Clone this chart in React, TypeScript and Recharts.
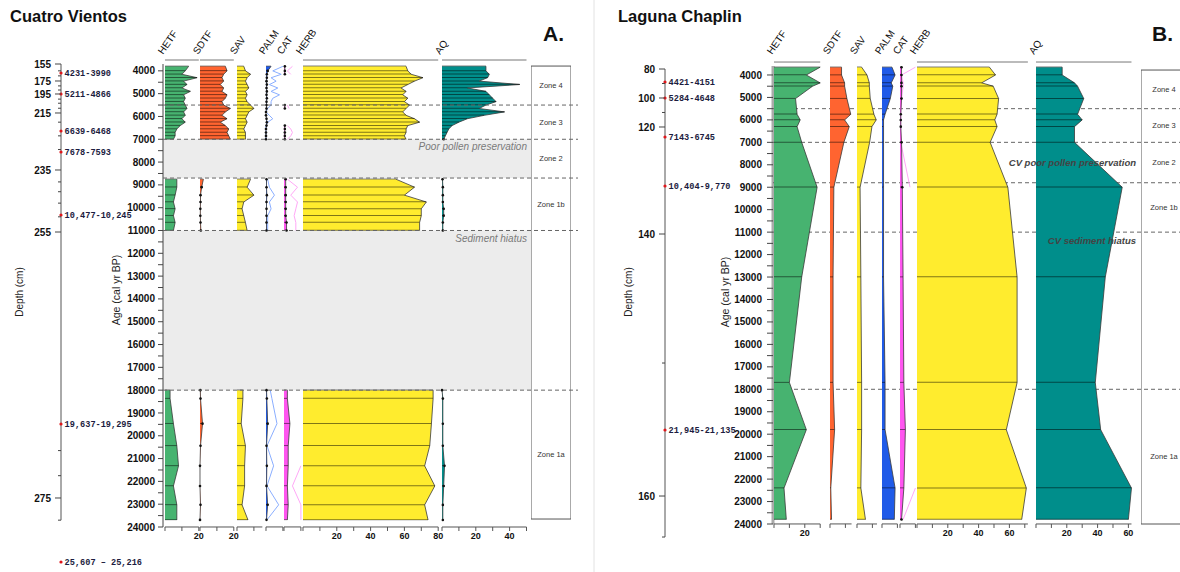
import React from 'react';
import {
  ComposedChart, Area, Bar, Line, XAxis, YAxis,
  ReferenceArea, ReferenceLine, ReferenceDot,
} from 'recharts';

// ---------- Cuatro Vientos (A) ----------
const cvAge = [
  3800, 4000, 4150, 4300, 4450, 4600, 4750, 4900, 5050, 5200, 5350, 5500, 5650, 5800, 5950, 6100, 6250, 6400, 6550, 6700, 6850, 7000,
  7850,
  8750, 9100, 9450, 9750, 10050, 10350, 10650, 11000,
  14500,
  18000, 18370, 19470, 20440, 21320, 22200, 23030, 23690,
];
const cvHETF = [
  14, 12, 10, 19, 11, 13, 10, 15, 11, 12, 11, 12, 13, 11, 12, 10, 12, 9, 7, 6, 6, 5,
  null,
  7, 7, 6, 5, 6, 5, 6, 5,
  null,
  3, 3, 5, 7, 8, 5, 7, 7,
];
const cvSDTF = [
  15, 16, 14, 13, 14, 12, 14, 13, 16, 15, 13, 14, 18, 15, 13, 16, 12, 15, 17, 16, 17, 18,
  null,
  2, 1, 0.3, 0.3, 0.2, 0.2, 0.3, 0.5,
  null,
  0.2, 0.3, 1.5, 0.3, 0, 0, 0.3, 0,
];
const cvSAV = [
  4, 5, 8, 6, 5, 6, 7, 5, 6, 5, 6, 8, 10, 7, 6, 5, 6, 5, 4, 5, 5, 5,
  null,
  8, 6, 10, 4, 3, 4, 5, 6,
  null,
  3.5, 3.5, 2.5, 5, 4.5, 4.5, 3, 6.5,
];
const cvPALM = [
  3, 1, 0.5, 0.5, 0.3, 0.5, 0.3, 0.5, 0.3, 0.5, 0.3, 0.3, 0.3, 0, 0, 0.3, 0.5, 0.3, 0, 0, 0, 0,
  null,
  0.3, 0.3, 0.5, 0.3, 0.3, 0.3, 0.3, 0.3,
  null,
  0.3, 0.5, 1, 0.3, 0.5, 0.3, 1, 0.3,
];
// exaggerated palm curve (light blue)
const cvPALMx = [
  10, 4, 9, 3, 6, 2, 7, 3, 8, 4, 3, 3, 1, 0, 2, 4, 1, 0, 0, 0, 0, 0,
  null,
  1, 2, 5, 2, 3, 1, 1, 1,
  null,
  2.5, 3.5, 6.5, 0.6, 4.5, 0.6, 7.5, 0.6,
];
const cvCAT = [
  0.5, 0.5, 0.5, null, null, null, null, null, null, null, null, 0.5, 0.5, null, null, null, null, 0.5, 0.5, 0.5, 0.5, 0.5,
  null,
  1, 1, 1, 1, 1, 1, 1.5, 1.5,
  null,
  2, 2, 3.5, 2.5, 2.5, 2, 2.5, 2,
];
const cvCATx = [
  5, 2, 4, null, null, null, null, null, null, null, null, 2, 3, null, null, null, null, 2, 4, 5, 4, 2,
  null,
  2, 8, 4, 8, 7, 6, 7, 7,
  null,
  null, null, null, null, 10, 5, 10, 10,
];
const cvHERB = [
  61, 62, 64, 71, 66, 62, 58, 61, 59, 62, 60, 63, 61, 59, 61, 66, 69, 62, 61, 61, 60, 61,
  null,
  55, 66, 60, 73, 70, 70, 69, 69,
  null,
  77, 77, 76, 75, 72, 78, 72, 74,
];
const cvAQ = [
  26, 26, 28, 27, 22, 46, 15, 26, 28, 30, 32, 26, 22, 37, 25, 15, 10, 6, 4, 3, 2, 1,
  null,
  0.3, 0.5, 0.5, 0.5, 1, 1, 0.5, 0.5,
  null,
  0, 0.5, 0.5, 0.5, 1.5, 1, 0.5, 0.5,
];

const cvDepth = [155, 175, 195, 215, 235, 255, 275];
const cvDepthAge = [3700, 4445, 5015, 5848, 8347, 11066, 22728];
const cvDepthMinor = [4000, 4220, 4660, 4840, 5240, 5420, 5640, 6250, 6850, 7450, 8870, 9300, 9800, 10400, 20650, 21750, 23700];
const cvDates = ['4231-3990', '5211-4866', '6639-6468', '7678-7593', '10,477-10,245', '19,637-19,295', '25,607 \u2013 25,216'];
const cvDateAge = [4095, 5015, 6638, 7558, 10320, 19484, 25534];

const cvZoneNames = ['Zone 4', 'Zone 3', 'Zone 2', 'Zone 1b', 'Zone 1a'];
const cvZoneFrom = [3790, 5500, 7000, 8700, 18000];
const cvZoneTo = [5500, 7000, 8700, 11000, 23650];
const cvZoneLines = [5500, 7000, 8700, 11000, 18000];
const cvGapText = ['Poor pollen preservation', 'Sediment hiatus'];
const cvGapFrom = [7000, 11000];
const cvGapTo = [8700, 18000];

// ---------- Laguna Chaplin (B) ----------
const lcAge = [3650, 4000, 4350, 4500, 5050, 5750, 6000, 6300, 7000, 9000, 13000, 17700, 19800, 22400, 23800];
const lcHETF = [30, 21, 30, 25, 14, 15, 17, 15, 18, 28, 18, 10, 21, 6.5, 8];
const lcSDTF = [7.5, 7.5, 9.5, 9.5, 11, 13.5, 9.5, 12.5, 9, 2.5, 2, 2, 3, 0.5, 1];
const lcSAV = [3, 6.5, 8, 8, 8.6, 11, 12.5, 9.7, 8.2, 2, 2.5, 3, 3, 2.5, 5.5];
const lcPALM = [6.5, 8.5, 6, 7, 5.4, 2, 1, 1, 1, 1, 1, 2, 2, 8.5, 8];
const lcCAT = [1, 1, 1, 1, 1, 0.5, 0.5, 0.5, 1, 1.5, 2, 2.5, 3.5, 2.5, 1];
const lcCATx = [10, 1, 2, 2, 1, 0.5, 0.5, 0.5, 0.5, 6.5, null, null, null, 10, 2];
const lcHERB = [47, 51, 42, 49.5, 53, 52, 50.5, 52, 47.5, 59, 65, 65, 58, 71, 68];
const lcAQ = [17, 17, 25, 27, 31, 27, 30, 25, 25, 56, 45, 38.5, 42, 62, 60];

const lcDepth = [80, 100, 120, 140, 160];
const lcDepthAge = [3734, 5025, 6317, 11083, 22754];
const lcDepthMinor = [4380, 5670, 16830, 24580];
const lcDates = ['4421-4151', '5284-4648', '7143-6745', '10,404-9,770', '21,945-21,135'];
const lcDateAge = [4313, 5025, 6763, 8945, 19814];

const lcZoneNames = ['Zone 4', 'Zone 3', 'Zone 2', 'Zone 1b', 'Zone 1a'];
const lcZoneFrom = [3780, 5500, 7000, 8800, 18000];
const lcZoneTo = [5500, 7000, 8800, 11000, 24000];
const lcZoneLines = [5500, 7000, 8800, 11000, 18000];
const lcNoteText = ['CV poor pollen preservation', 'CV sediment hiatus'];
const lcNoteFrom = [7000, 11000];
const lcNoteTo = [8800, 18000];

const ageMajor = [4000, 5000, 6000, 7000, 8000, 9000, 10000, 11000, 12000, 13000, 14000, 15000, 16000, 17000, 18000, 19000, 20000, 21000, 22000, 23000, 24000];
const ageMinor = [4500, 5500, 6500, 7500, 8500, 9500, 10500, 11500, 12500, 13500, 14500, 15500, 16500, 17500, 18500, 19500, 20500, 21500, 22500, 23500];

const cvRows = cvAge.map((age, i) => ({
  age, hetf: cvHETF[i], sdtf: cvSDTF[i], sav: cvSAV[i], palm: cvPALM[i], palmX: cvPALMx[i],
  cat: cvCAT[i], catX: cvCATx[i], herb: cvHERB[i], aq: cvAQ[i],
}));
const lcRows = lcAge.map((age, i) => ({
  age, hetf: lcHETF[i], sdtf: lcSDTF[i], sav: lcSAV[i], palm: lcPALM[i],
  cat: lcCAT[i], catX: lcCATx[i], herb: lcHERB[i], aq: lcAQ[i],
}));

const H = 572;
type Geo = { top: number; bottom: number; min: number; max: number; k: number };
const geoA: Geo = { top: 64, bottom: 527, min: 3700, max: 24000, k: 1.69 };
const geoB: Geo = { top: 66, bottom: 524, min: 3600, max: 24000, k: 1.54 };

type Strip = {
  key: string; name: string; x0: number; max: number; ticks: number[]; labels: number[];
  top: number[]; topLine?: boolean; fill: string; ex?: string; exColor?: string; dots?: boolean;
};

const GREEN = '#47b370';
const RED = '#ff6430';
const YEL = '#ffec2e';
const BLUE = '#1f5ae8';
const MAG = '#ff55f0';
const TEAL = '#008e8b';

const cvStrips: Strip[] = [
  { key: 'hetf', name: 'HETF', x0: 165, max: 20, ticks: [0, 10, 20], labels: [20], top: [0, 20], topLine: true, fill: GREEN },
  { key: 'sdtf', name: 'SDTF', x0: 200, max: 20, ticks: [0, 10, 20], labels: [20], top: [0, 20], topLine: true, fill: RED, dots: true },
  { key: 'sav', name: 'SAV', x0: 237, max: 15, ticks: [0, 10], labels: [], top: [0], fill: YEL },
  { key: 'palm', name: 'PALM', x0: 266, max: 10, ticks: [0, 10], labels: [], top: [0], fill: BLUE, ex: 'palmX', exColor: '#8aaeff', dots: true },
  { key: 'cat', name: 'CAT', x0: 284, max: 10, ticks: [0, 10], labels: [], top: [0], fill: MAG, ex: 'catX', exColor: '#ffa8f6', dots: true },
  { key: 'herb', name: 'HERB', x0: 303, max: 80, ticks: [0, 10, 20, 30, 40, 50, 60, 70, 80], labels: [20, 40, 60, 80], top: [0, 20, 40, 60, 80], topLine: true, fill: YEL },
  { key: 'aq', name: 'AQ', x0: 442, max: 50, ticks: [0, 10, 20, 30, 40, 50], labels: [20, 40], top: [0, 20, 40], topLine: true, fill: TEAL, dots: true },
];

const lcStrips: Strip[] = [
  { key: 'hetf', name: 'HETF', x0: 774, max: 30, ticks: [0, 10, 20, 30], labels: [20], top: [0, 20], topLine: true, fill: GREEN },
  { key: 'sdtf', name: 'SDTF', x0: 830, max: 14, ticks: [0, 10], labels: [], top: [0], fill: RED },
  { key: 'sav', name: 'SAV', x0: 857, max: 13, ticks: [0, 10], labels: [], top: [0], fill: YEL },
  { key: 'palm', name: 'PALM', x0: 882, max: 10, ticks: [0, 10], labels: [], top: [0], fill: BLUE },
  { key: 'cat', name: 'CAT', x0: 900, max: 10, ticks: [0, 10], labels: [], top: [0], fill: MAG, ex: 'catX', exColor: '#ffa8f6', dots: true },
  { key: 'herb', name: 'HERB', x0: 917, max: 72, ticks: [0, 10, 20, 30, 40, 50, 60, 70], labels: [20, 40, 60], top: [0, 20, 40, 60], topLine: true, fill: YEL },
  { key: 'aq', name: 'AQ', x0: 1036, max: 62, ticks: [0, 10, 20, 30, 40, 50, 60], labels: [20, 40, 60], top: [0, 20, 40, 60], topLine: true, fill: TEAL },
];

function StripChart({ rows, s, g }: { rows: any[]; s: Strip; g: Geo }) {
  const pad = 10;
  const w = s.max * g.k;
  const px = (g.bottom - g.top) / (g.max - g.min);
  const lift = 4; // top axis sits a few px above the first age
  const dot = s.dots
    ? (p: any) => {
        const v = p.payload ? p.payload[s.key] : null;
        if (v == null || v > 1.6 || p.cx == null) return <g key={`d${p.index}`} />;
        return <circle key={`d${p.index}`} cx={p.cx} cy={p.cy} r={1.3} fill="#111" />;
      }
    : false;
  return (
    <div style={{ position: 'absolute', left: s.x0 - pad, top: 0 }}>
      <ComposedChart
        layout="vertical"
        width={w + pad * 2}
        height={H}
        data={rows}
        margin={{ top: g.top - lift - 8, bottom: H - g.bottom - 24, left: pad, right: pad }}
      >
        <XAxis xAxisId="t" orientation="top" type="number" domain={[0, s.max]} allowDataOverflow
          ticks={s.top} interval={0} tick={false} height={8} tickSize={4}
          axisLine={s.topLine ? { stroke: '#777' } : false} tickLine={{ stroke: '#777' }} />
        <XAxis xAxisId="b" orientation="bottom" type="number" domain={[0, s.max]}
          ticks={s.ticks} interval={0} height={24} tickSize={4} tickMargin={2}
          tickFormatter={(v: number) => (s.labels.includes(v) ? String(v) : '')}
          tick={{ fontSize: 9, fontWeight: 700, fill: '#111' }}
          axisLine={{ stroke: '#555' }} tickLine={{ stroke: '#555' }} />
        <YAxis type="number" dataKey="age" domain={[g.min - lift / px, g.max]} hide />
        {s.ex && (
          <Area xAxisId="b" type="linear" dataKey={s.ex} fill="none" fillOpacity={0} stroke={s.exColor}
            strokeWidth={1} dot={false} activeDot={false} isAnimationActive={false} />
        )}
        <Area xAxisId="b" type="linear" dataKey={s.key} fill={s.fill} fillOpacity={1}
          stroke="#3a3a3a" strokeWidth={0.8} dot={dot as any} activeDot={false} isAnimationActive={false} />
        <Bar xAxisId="b" dataKey={s.key} barSize={1} fill="#000" fillOpacity={0.5} isAnimationActive={false} />
      </ComposedChart>
    </div>
  );
}

// horizontal-layout frame with a reversed age axis (used for everything that is not a data strip)
function Frame({ g, rows, left, width, dom, children, yAxis, bottomOverride }: any) {
  const d = dom || [g.min, g.max];
  const px = (g.bottom - g.top) / (g.max - g.min);
  const bottom = bottomOverride ? g.top + (d[1] - d[0]) * px : g.bottom;
  return (
    <div style={{ position: 'absolute', left, top: 0 }}>
      <ComposedChart width={width} height={H} data={rows}
        margin={{ top: g.top, bottom: H - bottom, left: 0, right: 0 }}>
        <XAxis type="number" domain={[0, 1]} hide allowDataOverflow />
        {yAxis || <YAxis type="number" domain={d} reversed hide allowDataOverflow />}
        {/* invisible carrier series so the reference marks get drawn */}
        <Line dataKey="age" stroke="none" dot={false} activeDot={false} isAnimationActive={false} legendType="none" />
        {children}
      </ComposedChart>
    </div>
  );
}

function ageAxis(g: Geo, tickSize: number, tickMargin: number, axisLine: any) {
  return (
    <YAxis type="number" domain={[g.min, g.max]} reversed allowDataOverflow width={45}
      ticks={[...ageMajor, ...ageMinor]} interval={0}
      tickFormatter={(v: number) => (ageMajor.includes(v) ? String(v) : '')}
      tickSize={tickSize} tickMargin={tickMargin}
      tick={{ fontSize: 10, fontWeight: 700, fill: '#111' }}
      tickLine={{ stroke: '#444' }} axisLine={axisLine} />
  );
}

function depthAxis(dom: number[], depth: number[], depthAge: number[], minor: number[]) {
  const tick = (p: any) => {
    const i = depthAge.indexOf(p.payload.value);
    const len = i >= 0 ? 6 : 3;
    return (
      <g key={`t${p.index}`}>
        <line x1={p.x - len} x2={p.x} y1={p.y} y2={p.y} stroke="#444" />
        {i >= 0 && (
          <text x={p.x - 10} y={p.y} dy="0.36em" textAnchor="end" fontSize={10} fontWeight={700} fill="#111">
            {depth[i]}
          </text>
        )}
      </g>
    );
  };
  return (
    <YAxis type="number" domain={dom} reversed allowDataOverflow width={50} ticks={[...depthAge, ...minor]} interval={0}
      tick={tick} tickSize={0} tickMargin={0} axisLine={false} tickLine={false} />
  );
}

// label renderer for a reference area: text centred in the band
const bandText = (text: string, style: any) => (p: any) => {
  const vb = p.viewBox || {};
  return (
    <text x={vb.x + vb.width / 2} y={vb.y + vb.height / 2} dy="0.35em" textAnchor="middle" {...style}>
      {text}
    </text>
  );
};

function Panel({ g, rows, strips, ageLeft, depthLeft, depthDom, depth, depthAge, minor, span, dates, dateAge,
  zoneLeft, zoneWidth, zoneBox, zoneNames, zoneFrom, zoneTo, zoneLines, linesOnTop, gaps, notes, ageTick, ageMargin, ageLine, lineRight }: any) {
  const axisX = ageLeft + 45;
  const dashed = (
    <Frame g={g} rows={rows} left={axisX} width={lineRight - axisX}>
      {zoneLines.map((y: number) => (
        <ReferenceLine key={y} y={y} stroke="#666" strokeDasharray="4 3" />
      ))}
    </Frame>
  );
  return (
    <>
      <Frame g={g} rows={rows} left={ageLeft} width={zoneLeft - ageLeft} yAxis={ageAxis(g, ageTick, ageMargin, ageLine)}>
        {gaps.map((gp: any) => (
          <ReferenceArea key={gp.text} y1={gp.from} y2={gp.to} fill="#ececec" fillOpacity={1} stroke="none"
            label={{ value: gp.text, position: 'insideTopRight', offset: 4, fontSize: 10, fontStyle: 'italic', fill: '#7a7a7a' }} />
        ))}
      </Frame>
      {!linesOnTop && dashed}
      <Frame g={g} rows={rows} left={depthLeft} width={150} dom={depthDom} bottomOverride
        yAxis={depthAxis(depthDom, depth, depthAge, minor)}>
        <ReferenceLine segment={[{ x: 0, y: span[0] }, { x: 0, y: span[1] }]} stroke="#555" ifOverflow="visible" />
        {dates.map((d: string, i: number) => (
          <ReferenceDot key={d} x={0} y={dateAge[i]} r={1.6} fill="#e0161a" stroke="none" ifOverflow="visible"
            label={{ value: d, position: 'right', offset: 2, fontSize: 8.6, fontWeight: 700, fontFamily: '"Liberation Mono", "DejaVu Sans Mono", monospace', fill: '#1c1c40' }} />
        ))}
      </Frame>
      {strips.map((s: Strip) => <StripChart key={s.name} rows={rows} s={s} g={g} />)}
      <Frame g={g} rows={rows} left={zoneLeft} width={zoneWidth}>
        <ReferenceArea y1={zoneBox[0]} y2={zoneBox[1]} fill="#fff" fillOpacity={0} stroke="#555" strokeWidth={1} />
        {zoneNames.map((n: string, i: number) => (
          <ReferenceArea key={n} y1={zoneFrom[i]} y2={zoneTo[i]} fillOpacity={0} strokeOpacity={0}
            label={bandText(n, { fontSize: 7.5, fill: '#333' })} />
        ))}
      </Frame>
      {linesOnTop && dashed}
      <Frame g={g} rows={rows} left={axisX} width={zoneLeft - axisX}>
        {notes.map((n: any) => (
          <ReferenceArea key={n.text} y1={n.from} y2={n.to} fillOpacity={0} strokeOpacity={0}
            label={{ value: n.text, position: n.pos, offset: 5, fontSize: 9.5, fontStyle: 'italic', fontWeight: 700, fill: '#444' }} />
        ))}
      </Frame>
    </>
  );
}

function StripNames({ strips }: { strips: Strip[] }) {
  return (
    <>
      {strips.map((s) => (
        <text key={s.name + s.x0} transform={`translate(${s.x0 - 2},55) rotate(-55)`} fontSize={10} fill="#111">
          {s.name}
        </text>
      ))}
    </>
  );
}

export default function App() {
  return (
    <div style={{
      position: 'absolute', left: 0, top: 0, width: 1180, height: H, overflow: 'hidden',
      background: '#fff', fontFamily: '"Liberation Sans", Arial, sans-serif',
    }}>
      <Panel g={geoA} rows={cvRows} strips={cvStrips} ageLeft={118} depthLeft={11} depthDom={[3700, 25900]}
        depth={cvDepth} depthAge={cvDepthAge} minor={cvDepthMinor} span={[3700, 23700]}
        dates={cvDates} dateAge={cvDateAge} zoneLeft={531} zoneWidth={40} zoneBox={[3790, 23650]}
        zoneNames={cvZoneNames} zoneFrom={cvZoneFrom} zoneTo={cvZoneTo} zoneLines={cvZoneLines} linesOnTop
        gaps={cvGapText.map((t, i) => ({ text: t, from: cvGapFrom[i], to: cvGapTo[i] }))} notes={[]}
        ageTick={5} ageMargin={3} ageLine={{ stroke: '#444' }} lineRight={578} />
      <Panel g={geoB} rows={lcRows} strips={lcStrips} ageLeft={728} depthLeft={615} depthDom={[3600, 25000]}
        depth={lcDepth} depthAge={lcDepthAge} minor={lcDepthMinor} span={[3734, 24580]}
        dates={lcDates} dateAge={lcDateAge} zoneLeft={1141} zoneWidth={46} zoneBox={[3780, 24000]}
        zoneNames={lcZoneNames} zoneFrom={lcZoneFrom} zoneTo={lcZoneTo} zoneLines={lcZoneLines} linesOnTop={false}
        gaps={[]}
        notes={lcNoteText.map((t, i) => ({ text: t, from: lcNoteFrom[i], to: lcNoteTo[i], pos: i === 0 ? 'insideRight' : 'insideTopRight' }))}
        ageTick={6} ageMargin={5} ageLine={{ stroke: '#aaa', strokeWidth: 3 }} lineRight={1180} />

      <svg width={1180} height={H} style={{ position: 'absolute', left: 0, top: 0, pointerEvents: 'none' }}>
        <line x1={594} x2={594} y1={0} y2={H} stroke="#e2e2e2" />
        <text x={10} y={22} fontSize={16.5} fontWeight={700} fill="#111">Cuatro Vientos</text>
        <text x={618} y={22} fontSize={16.5} fontWeight={700} fill="#111">Laguna Chaplin</text>
        <text x={543} y={41} fontSize={21} fontWeight={700} fill="#111">A.</text>
        <text x={1152} y={41} fontSize={21} fontWeight={700} fill="#111">B.</text>
        <text transform="translate(23,292) rotate(-90)" textAnchor="middle" fontSize={10} fill="#222">Depth (cm)</text>
        <text transform="translate(632,292) rotate(-90)" textAnchor="middle" fontSize={10} fill="#222">Depth (cm)</text>
        <text transform="translate(120,290) rotate(-90)" textAnchor="middle" fontSize={10.5} fill="#222">Age (cal  yr BP)</text>
        <text transform="translate(729,292) rotate(-90)" textAnchor="middle" fontSize={10.5} fill="#222">Age (cal  yr BP)</text>
        <StripNames strips={cvStrips} />
        <StripNames strips={lcStrips} />
      </svg>
    </div>
  );
}
